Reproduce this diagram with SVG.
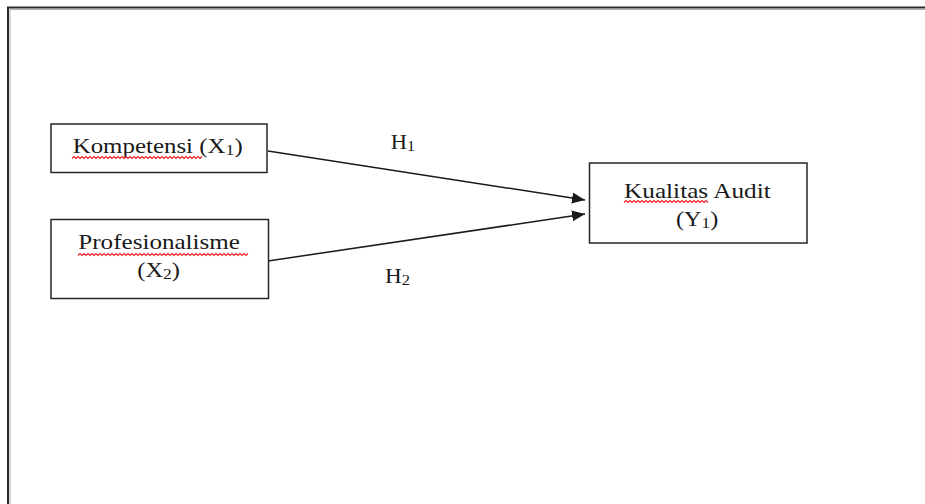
<svg xmlns="http://www.w3.org/2000/svg" width="925" height="504" viewBox="0 0 925 504">
<style>
.box{fill:#fff;stroke:#262626;stroke-width:1.5}
.t{font-family:"Liberation Serif","Times New Roman",serif;font-size:21px;fill:#1a1a1a}
.sub{font-size:15px}
.sq{fill:none;stroke:#e8252a;stroke-width:1.2}
.conn{stroke:#1a1a1a;stroke-width:1.5;fill:none;marker-end:url(#ah)}
</style>
<defs>
<marker id="ah" markerUnits="userSpaceOnUse" markerWidth="14" markerHeight="12" refX="13" refY="5.5" orient="auto">
<path d="M0,0 L13,5.5 L0,11 z" fill="#1a1a1a"/>
</marker>
</defs>
<rect x="0" y="0" width="925" height="504" fill="#fff"/>
<rect x="8" y="7.5" width="930" height="510" fill="none" stroke="#2a2a2a" stroke-width="2"/>
<line x1="10" y1="9.5" x2="925" y2="9.5" stroke="#b0b0b0" stroke-width="1"/>
<line x1="10" y1="9.5" x2="10" y2="504" stroke="#b0b0b0" stroke-width="1"/>

<g id="connectors">
<line class="conn" x1="268" y1="151" x2="585" y2="200"/>
<line class="conn" x1="268" y1="261" x2="585" y2="214"/>
</g>

<g id="node-x1">
<rect class="box" x="51" y="124" width="216" height="48.5"/>
<text class="t" x="72.7" y="153.3" textLength="170" lengthAdjust="spacingAndGlyphs">Kompetensi (X<tspan class="sub" dy="2">1</tspan><tspan dy="-2">)</tspan></text>
<path class="sq" d="M72,158.5 l2,-2 l2,2 l2,-2 l2,2 l2,-2 l2,2 l2,-2 l2,2 l2,-2 l2,2 l2,-2 l2,2 l2,-2 l2,2 l2,-2 l2,2 l2,-2 l2,2 l2,-2 l2,2 l2,-2 l2,2 l2,-2 l2,2 l2,-2 l2,2 l2,-2 l2,2 l2,-2 l2,2 l2,-2 l2,2 l2,-2 l2,2 l2,-2 l2,2 l2,-2 l2,2 l2,-2 l2,2 l2,-2 l2,2 l2,-2 l2,2 l2,-2 l2,2 l2,-2 l2,2 l2,-2 l2,2 l2,-2 l2,2 l2,-2 l2,2 l2,-2 l2,2 l2,-2 l2,2 l2,-2 l2,2 l2,-2 l2,2 l2,-2 l2,2 l2,-2"/>
</g>

<g id="node-x2">
<rect class="box" x="51" y="219.5" width="217.5" height="79"/>
<text class="t" x="78.3" y="249" textLength="161.7" lengthAdjust="spacingAndGlyphs">Profesionalisme</text>
<text class="t" x="137.3" y="276.7" textLength="42.7" lengthAdjust="spacingAndGlyphs">(X<tspan class="sub" dy="2">2</tspan><tspan dy="-2">)</tspan></text>
<path class="sq" d="M78,255.5 l2,-2 l2,2 l2,-2 l2,2 l2,-2 l2,2 l2,-2 l2,2 l2,-2 l2,2 l2,-2 l2,2 l2,-2 l2,2 l2,-2 l2,2 l2,-2 l2,2 l2,-2 l2,2 l2,-2 l2,2 l2,-2 l2,2 l2,-2 l2,2 l2,-2 l2,2 l2,-2 l2,2 l2,-2 l2,2 l2,-2 l2,2 l2,-2 l2,2 l2,-2 l2,2 l2,-2 l2,2 l2,-2 l2,2 l2,-2 l2,2 l2,-2 l2,2 l2,-2 l2,2 l2,-2 l2,2 l2,-2 l2,2 l2,-2 l2,2 l2,-2 l2,2 l2,-2 l2,2 l2,-2 l2,2 l2,-2 l2,2 l2,-2 l2,2 l2,-2 l2,2 l2,-2 l2,2 l2,-2 l2,2 l2,-2 l2,2 l2,-2 l2,2 l2,-2 l2,2 l2,-2 l2,2 l2,-2 l2,2 l2,-2 l2,2 l2,-2 l2,2 l2,-2"/>
</g>

<g id="node-y1">
<rect class="box" x="589.5" y="163" width="217.5" height="80"/>
<text class="t" x="624" y="198.3" textLength="146.7" lengthAdjust="spacingAndGlyphs">Kualitas Audit</text>
<text class="t" x="676" y="226" textLength="42.3" lengthAdjust="spacingAndGlyphs">(Y<tspan class="sub" dy="2">1</tspan><tspan dy="-2">)</tspan></text>
<path class="sq" d="M624,202.5 l2,-2 l2,2 l2,-2 l2,2 l2,-2 l2,2 l2,-2 l2,2 l2,-2 l2,2 l2,-2 l2,2 l2,-2 l2,2 l2,-2 l2,2 l2,-2 l2,2 l2,-2 l2,2 l2,-2 l2,2 l2,-2 l2,2 l2,-2 l2,2 l2,-2 l2,2 l2,-2 l2,2 l2,-2 l2,2 l2,-2 l2,2 l2,-2 l2,2 l2,-2 l2,2 l2,-2 l2,2 l2,-2 l2,2"/>
</g>

<g id="labels">
<text class="t" x="390.7" y="149.3" textLength="24.3" lengthAdjust="spacingAndGlyphs">H<tspan class="sub" dy="2">1</tspan></text>
<text class="t" x="385" y="282.7" textLength="25" lengthAdjust="spacingAndGlyphs">H<tspan class="sub" dy="2">2</tspan></text>
</g>
</svg>
